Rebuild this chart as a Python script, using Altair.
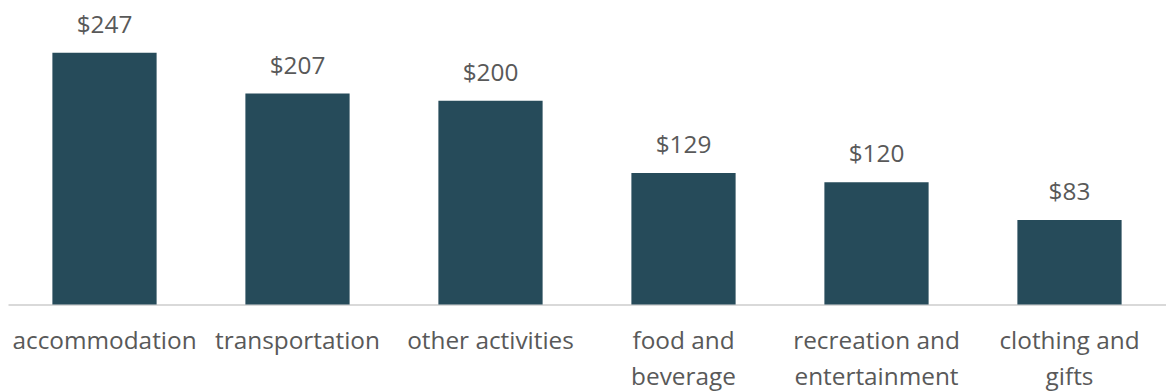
import altair as alt
import pandas as pd

categories = ["accommodation", "transportation", "other activities",
              "food and beverage", "recreation and entertainment", "clothing and gifts"]
values = [247, 207, 200, 129, 120, 83]

df = pd.DataFrame({"category": categories, "value": values})

FONT = "Open Sans"
TEXT = "#595959"
FS = 24.5

base = alt.Chart(df).encode(
    x=alt.X("category:N", sort=categories,
            scale=alt.Scale(paddingInner=0.46, paddingOuter=0.23),
            axis=alt.Axis(title=None, ticks=False, domain=True, domainColor="#D9D9D9",
                          domainWidth=2, labelAngle=0, labelFont=FONT, labelFontSize=FS,
                          labelColor=TEXT, labelPadding=25, labelLineHeight=36,
                          labelExpr="split(replace(datum.label, ' and ', ' and|'), '|')",
                          labelLimit=300)),
    y=alt.Y("value:Q", scale=alt.Scale(domain=[0, 290], nice=False, zero=True),
            axis=None),
)

bars = base.mark_bar(color="#264B5A")
labels = base.mark_text(baseline="bottom", dy=-15, font=FONT, fontSize=FS,
                        color=TEXT).encode(text=alt.Text("value:Q", format="$,.0f"))

chart = (bars + labels).properties(
    width=1164, height=297, background="white",
    padding={"left": 0, "top": 0, "right": 0, "bottom": 12},
).configure_view(strokeWidth=0, stroke="transparent")

chart.save("out.html", embed_options={"renderer": "svg", "actions": False})
